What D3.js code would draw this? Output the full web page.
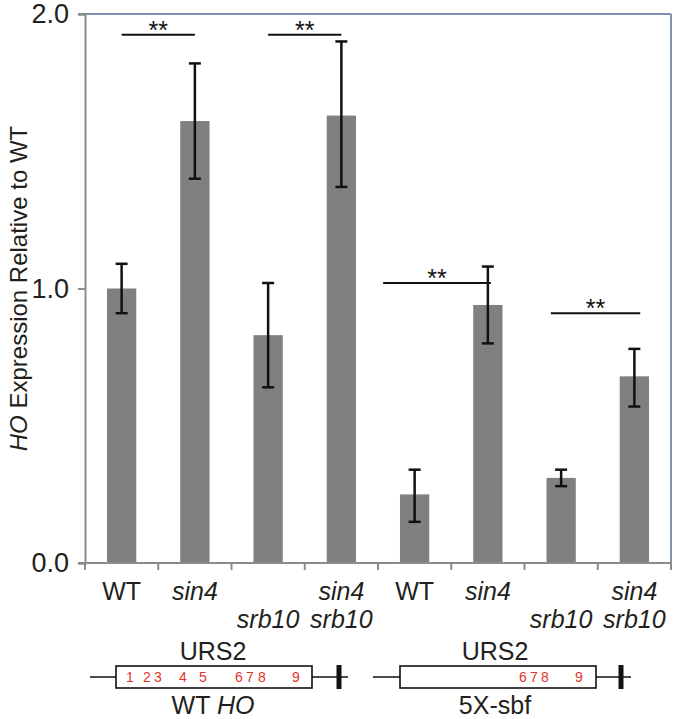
<!DOCTYPE html>
<html>
<head>
<meta charset="utf-8">
<script src="https://cdn.jsdelivr.net/npm/d3@7"></script>
<style>
  body { margin: 0; background: #fff; }
  svg { display: block; font-family: 'Liberation Sans', Arial, sans-serif; }
</style>
</head>
<body>
<div id="chart"></div>
<script>
// valores
const categories = ['WT', 'sin4', 'srb10', 'sin4 srb10', 'WT 5X', 'sin4 5X', 'srb10 5X', 'sin4 srb10 5X'];
const labelRow1 = ['WT', 'sin4', '', 'sin4', 'WT', 'sin4', '', 'sin4'];
const labelRow2 = ['', '', 'srb10', 'srb10', '', '', 'srb10', 'srb10'];
const italicLabel = [false, true, true, true, false, true, true, true];
const values = [1.00, 1.61, 0.83, 1.63, 0.25, 0.94, 0.31, 0.68];
const errLow = [0.91, 1.40, 0.64, 1.37, 0.15, 0.80, 0.28, 0.57];
const errHigh = [1.09, 1.82, 1.02, 1.90, 0.34, 1.08, 0.34, 0.78];
const yTicks = [0, 1, 2];

// barras de significância: extremos em unidades de índice da categoria
const sigFrom = [0, 2, 3.57, 5.86];
const sigTo = [1, 3, 5.04, 7.08];
const sigY = [1.924, 1.924, 1.02, 0.91];
const sigText = ['**', '**', '**', '**'];

// sítios dos promotores
const sitesWT = ['1', '2', '3', '4', '5', '6', '7', '8', '9'];
const sitesWTx = [130, 147, 158, 183, 203, 239, 250, 262, 296];
const sites5X = ['6', '7', '8', '9'];
const sites5Xx = [523, 534, 545, 579];

const width = 677, height = 719;
const mLeft = 85, mRight = 671, mTop = 14, mBottom = 563;

const svg = d3.select('#chart').append('svg')
    .attr('width', width)
    .attr('height', height);

const x = d3.scaleBand()
    .domain(categories)
    .range([mLeft, mRight])
    .paddingInner(0.6)
    .paddingOuter(0.3);

const xi = d3.scaleLinear().domain([-0.5, categories.length - 0.5]).range([mLeft, mRight]);

const y = d3.scaleLinear().domain([0, 2]).range([mBottom, mTop]);

// bordas superior e direita
svg.append('line')
    .attr('x1', mLeft - 7).attr('x2', mRight)
    .attr('y1', y(2)).attr('y2', y(2))
    .attr('stroke', '#7f8fb2').attr('stroke-width', 2);
svg.append('line')
    .attr('x1', mRight).attr('x2', mRight)
    .attr('y1', y(2)).attr('y2', mBottom)
    .attr('stroke', '#7f8fb2').attr('stroke-width', 2);

// barras
svg.selectAll('rect.bar')
    .data(values)
    .enter()
    .append('rect')
    .attr('class', 'bar')
    .attr('x', (d, i) => x(categories[i]))
    .attr('width', x.bandwidth())
    .attr('y', d => y(d))
    .attr('height', d => y(0) - y(d))
    .attr('fill', '#808080');

// eixo y
const yAxis = svg.append('g')
    .attr('transform', `translate(${mLeft},0)`)
    .call(d3.axisLeft(y).tickValues(yTicks).tickFormat(d3.format('.1f')).tickSize(7).tickPadding(9));
yAxis.select('.domain').attr('stroke', '#8c8c8c').attr('stroke-width', 2);
yAxis.selectAll('.tick line').attr('stroke', '#8c8c8c').attr('stroke-width', 2);
yAxis.selectAll('.tick text')
    .attr('font-size', '27px')
    .attr('fill', '#231f20')
    .attr('font-family', "'Liberation Sans', Arial, sans-serif");

// eixo x
svg.append('line')
    .attr('x1', mLeft - 7).attr('x2', mRight)
    .attr('y1', mBottom).attr('y2', mBottom)
    .attr('stroke', '#8c8c8c').attr('stroke-width', 2);
svg.selectAll('line.xtick')
    .data(d3.range(categories.length + 1))
    .enter()
    .append('line')
    .attr('class', 'xtick')
    .attr('x1', d => xi(d - 0.5)).attr('x2', d => xi(d - 0.5))
    .attr('y1', mBottom).attr('y2', mBottom + 7)
    .attr('stroke', '#8c8c8c').attr('stroke-width', 2);

// barras de erro
const err = svg.append('g');
categories.forEach((c, i) => {
    const cx = x(c) + x.bandwidth() / 2;
    err.append('line')
        .attr('x1', cx).attr('x2', cx)
        .attr('y1', y(errLow[i])).attr('y2', y(errHigh[i]))
        .attr('stroke', '#111').attr('stroke-width', 2.5);
    [errLow[i], errHigh[i]].forEach(v => {
        err.append('line')
            .attr('x1', cx - 6).attr('x2', cx + 6)
            .attr('y1', y(v)).attr('y2', y(v))
            .attr('stroke', '#111').attr('stroke-width', 2.5);
    });
});

// significância
sigY.forEach((v, i) => {
    svg.append('line')
        .attr('x1', xi(sigFrom[i])).attr('x2', xi(sigTo[i]))
        .attr('y1', y(v)).attr('y2', y(v))
        .attr('stroke', '#111').attr('stroke-width', 2);
    svg.append('text')
        .attr('x', (xi(sigFrom[i]) + xi(sigTo[i])) / 2)
        .attr('y', y(v) + 4)
        .attr('text-anchor', 'middle')
        .attr('font-size', '25px')
        .attr('fill', '#111')
        .text(sigText[i]);
});

// rótulos das categorias
const labels = svg.append('g')
    .attr('font-size', '25px')
    .attr('fill', '#231f20')
    .attr('text-anchor', 'middle');
categories.forEach((c, i) => {
    const cx = x(c) + x.bandwidth() / 2;
    if (labelRow1[i]) {
        labels.append('text')
            .attr('x', cx).attr('y', 600)
            .attr('font-style', italicLabel[i] ? 'italic' : 'normal')
            .text(labelRow1[i]);
    }
    if (labelRow2[i]) {
        labels.append('text')
            .attr('x', cx).attr('y', 628)
            .attr('font-style', italicLabel[i] ? 'italic' : 'normal')
            .text(labelRow2[i]);
    }
});

// título do eixo y
const yTitle = svg.append('text')
    .attr('transform', `translate(27,${(mTop + mBottom) / 2}) rotate(-90)`)
    .attr('text-anchor', 'middle')
    .attr('font-size', '24px')
    .attr('fill', '#231f20');
yTitle.append('tspan').attr('font-style', 'italic').text('HO');
yTitle.append('tspan').text(' Expression Relative to WT');

// diagramas dos promotores
function promoter(p, sites, sitesX, nameParts) {
    const g = svg.append('g');
    const ly = 677;
    g.append('line')
        .attr('x1', p.start).attr('x2', p.end)
        .attr('y1', ly).attr('y2', ly)
        .attr('stroke', '#111').attr('stroke-width', 1.6);
    g.append('rect')
        .attr('x', p.boxL).attr('y', 666)
        .attr('width', p.boxR - p.boxL).attr('height', 22)
        .attr('fill', '#fff').attr('stroke', '#111').attr('stroke-width', 1.6);
    g.append('rect')
        .attr('x', p.tss - 2.5).attr('y', 665)
        .attr('width', 5).attr('height', 24)
        .attr('fill', '#111');
    g.selectAll('text.site')
        .data(sites)
        .enter()
        .append('text')
        .attr('class', 'site')
        .attr('x', (d, i) => sitesX[i])
        .attr('y', ly + 5)
        .attr('text-anchor', 'middle')
        .attr('font-size', '14px')
        .attr('fill', '#e2322b')
        .text(d => d);
    g.append('text')
        .attr('x', p.title).attr('y', 660)
        .attr('text-anchor', 'middle')
        .attr('font-size', '25px')
        .attr('fill', '#231f20')
        .text('URS2');
    const name = g.append('text')
        .attr('x', p.title).attr('y', 714)
        .attr('text-anchor', 'middle')
        .attr('font-size', '25px')
        .attr('fill', '#231f20');
    nameParts.forEach(n => {
        name.append('tspan').attr('font-style', n.italic ? 'italic' : 'normal').text(n.t);
    });
}

promoter({ start: 90, boxL: 116, boxR: 312, tss: 339, end: 348, title: 213 },
    sitesWT, sitesWTx, [{ t: 'WT ' }, { t: 'HO', italic: true }]);
promoter({ start: 373, boxL: 400, boxR: 596, tss: 621, end: 631, title: 495 },
    sites5X, sites5Xx, [{ t: '5X-sbf' }]);
</script>
</body>
</html>
